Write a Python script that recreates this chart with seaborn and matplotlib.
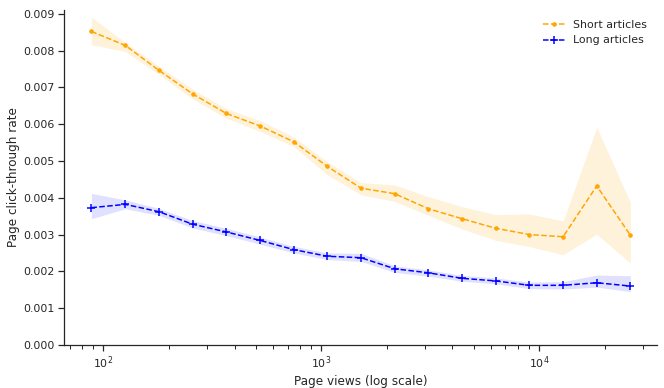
import numpy as np
import pandas as pd
import seaborn as sns
import matplotlib
matplotlib.use('Agg')
import matplotlib.pyplot as plt

# Page views per bin (log-spaced bins)
page_views = [88, 126, 180, 257, 367, 524, 748, 1067, 1523, 2174,
              3103, 4430, 6324, 9027, 12885, 18392, 26254]

# Short articles: click-through rate and confidence band
short_rate = [0.00852, 0.00814, 0.00746, 0.00682, 0.00629, 0.00595, 0.00552,
              0.00485, 0.00426, 0.00411, 0.00370, 0.00343, 0.00317, 0.00300,
              0.00294, 0.00432, 0.00298]
short_high = [0.00891, 0.00822, 0.00757, 0.00695, 0.00642, 0.00610, 0.00565,
              0.00498, 0.00441, 0.00435, 0.00403, 0.00376, 0.00354, 0.00356,
              0.00337, 0.00592, 0.00387]
short_low = [0.00816, 0.00797, 0.00735, 0.00668, 0.00616, 0.00580, 0.00539,
             0.00462, 0.00408, 0.00390, 0.00352, 0.00315, 0.00284, 0.00267,
             0.00245, 0.00301, 0.00222]

# Long articles: click-through rate and confidence band
long_rate = [0.00373, 0.00382, 0.00362, 0.00328, 0.00307, 0.00284, 0.00259,
             0.00241, 0.00237, 0.00207, 0.00196, 0.00181, 0.00174, 0.00162,
             0.00162, 0.00169, 0.00160]
long_high = [0.00412, 0.00394, 0.00371, 0.00338, 0.00317, 0.00293, 0.00268,
             0.00250, 0.00249, 0.00215, 0.00204, 0.00189, 0.00182, 0.00171,
             0.00172, 0.00190, 0.00188]
long_low = [0.00343, 0.00370, 0.00352, 0.00318, 0.00297, 0.00274, 0.00250,
            0.00232, 0.00227, 0.00197, 0.00187, 0.00173, 0.00166, 0.00153,
            0.00152, 0.00157, 0.00145]

df = pd.DataFrame({
    'views': page_views,
    'short': short_rate, 'short_low': short_low, 'short_high': short_high,
    'long': long_rate, 'long_low': long_low, 'long_high': long_high,
})

sns.set_theme(style='ticks', context='notebook')
fig, ax = plt.subplots(figsize=(664 / 72, 388 / 72), dpi=72)

sns.lineplot(data=df, x='views', y='short', ax=ax, color='orange',
             linestyle='--', marker='.', markersize=7, mec='orange',
             mew=1, label='Short articles')
ax.fill_between(df['views'], df['short_low'], df['short_high'],
                color='orange', alpha=0.14, lw=0)

sns.lineplot(data=df, x='views', y='long', ax=ax, color='blue',
             linestyle='--', marker='+', markersize=8, mec='blue',
             mew=1.5, label='Long articles')
ax.fill_between(df['views'], df['long_low'], df['long_high'],
                color='blue', alpha=0.12, lw=0)

ax.set_xscale('log')
ax.set_ylim(0, 0.0091)
ax.set_yticks(np.arange(0, 0.00901, 0.001))
ax.set_xlabel('Page views (log scale)')
ax.set_ylabel('Page click-through rate')
ax.legend(loc='upper right', frameon=False)
sns.despine(ax=ax)

fig.subplots_adjust(left=0.097, right=0.99, bottom=0.111, top=0.974)
fig.savefig('out.png', dpi=72)
